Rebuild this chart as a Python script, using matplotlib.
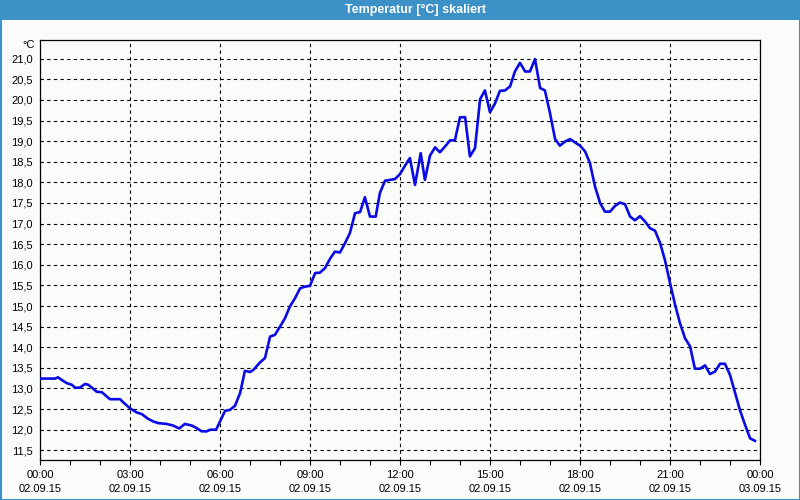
import matplotlib
matplotlib.use("Agg")
import matplotlib.pyplot as plt
from matplotlib.patches import Rectangle
from matplotlib.ticker import MultipleLocator, FixedLocator

# time in hours since 02.09.15 00:00, temperature in °C
hours = [0.0, 0.5, 0.6, 0.72, 0.89, 1.06, 1.17, 1.33, 1.5, 1.61, 1.78, 1.89, 2.06, 2.17,
         2.33, 2.67, 2.78, 3.0, 3.22, 3.39, 3.61, 3.78, 3.94, 4.22, 4.44, 4.64, 4.83,
         5.06, 5.22, 5.39, 5.56, 5.67, 5.87, 6.0, 6.17, 6.33, 6.5, 6.67, 6.83, 7.0, 7.11,
         7.33, 7.5, 7.67, 7.83, 8.0, 8.17, 8.33, 8.5, 8.67, 8.83, 9.0, 9.17, 9.33, 9.5,
         9.67, 9.83, 10.0, 10.17, 10.33, 10.5, 10.67, 10.83, 11.0, 11.19, 11.33, 11.5,
         11.67, 11.83, 12.0, 12.17, 12.33, 12.5, 12.69, 12.83, 13.0, 13.17, 13.33, 13.5,
         13.67, 13.83, 14.0, 14.17, 14.33, 14.5, 14.67, 14.83, 15.0, 15.17, 15.33, 15.5,
         15.67, 15.83, 16.0, 16.17, 16.33, 16.5, 16.61, 16.67, 16.83, 17.0, 17.17, 17.33,
         17.5, 17.67, 17.83, 18.0, 18.17, 18.33, 18.5, 18.67, 18.83, 19.0, 19.17, 19.33,
         19.5, 19.67, 19.83, 20.0, 20.17, 20.33, 20.5, 20.67, 20.83, 21.0, 21.17, 21.33,
         21.5, 21.67, 21.83, 22.0, 22.17, 22.33, 22.5, 22.67, 22.83, 23.0, 23.17, 23.33,
         23.5, 23.67, 23.83]
temps = [13.24, 13.24, 13.27, 13.21, 13.13, 13.09, 13.02, 13.02, 13.11, 13.09, 12.99, 12.92,
         12.91, 12.84, 12.74, 12.74, 12.66, 12.52, 12.42, 12.38, 12.26, 12.20, 12.16, 12.14,
         12.10, 12.03, 12.14, 12.10, 12.04, 11.96, 11.96, 12.00, 12.00, 12.20, 12.46, 12.48,
         12.58, 12.89, 13.43, 13.40, 13.45, 13.63, 13.74, 14.26, 14.30, 14.50, 14.71, 14.99,
         15.19, 15.43, 15.47, 15.49, 15.80, 15.81, 15.92, 16.15, 16.32, 16.30, 16.53, 16.77,
         17.25, 17.28, 17.64, 17.17, 17.17, 17.74, 18.04, 18.06, 18.08, 18.20, 18.41, 18.59,
         17.94, 18.71, 18.06, 18.65, 18.85, 18.73, 18.87, 19.02, 19.02, 19.58, 19.58, 18.63,
         18.83, 20.02, 20.23, 19.70, 19.92, 20.22, 20.23, 20.33, 20.69, 20.90, 20.69, 20.69,
         20.99, 20.53, 20.29, 20.23, 19.68, 19.05, 18.89, 18.99, 19.05, 18.97, 18.89, 18.75,
         18.47, 17.90, 17.50, 17.29, 17.29, 17.43, 17.51, 17.47, 17.17, 17.08, 17.18, 17.05,
         16.89, 16.83, 16.53, 16.12, 15.56, 15.03, 14.59, 14.22, 14.02, 13.48, 13.48, 13.56,
         13.35, 13.41, 13.60, 13.60, 13.33, 12.89, 12.48, 12.12, 11.79, 11.73]

x_ticks = [0, 3, 6, 9, 12, 15, 18, 21, 24]
x_labels = ["00:00\n02.09.15", "03:00\n02.09.15", "06:00\n02.09.15", "09:00\n02.09.15",
            "12:00\n02.09.15", "15:00\n02.09.15", "18:00\n02.09.15", "21:00\n02.09.15",
            "00:00\n03.09.15"]
y_ticks = [11.5, 12.0, 12.5, 13.0, 13.5, 14.0, 14.5, 15.0, 15.5, 16.0, 16.5, 17.0, 17.5,
           18.0, 18.5, 19.0, 19.5, 20.0, 20.5, 21.0]
title = "Temperatur [°C] skaliert"
unit = "°C"

FONT = "Liberation Sans"
bg = "#fafcfa"
blue_bar = "#3c91c6"

fig = plt.figure(figsize=(8, 5), dpi=100, facecolor=bg)
W, H = 800, 500

# title bar and border
fig.patches.append(Rectangle((0, 1 - 20 / H), 1, 20 / H, transform=fig.transFigure,
                             facecolor=blue_bar, edgecolor="none", zorder=0))
fig.patches.append(Rectangle((0.5 / W, 0.5 / H), 1 - 1 / W, 1 - 1 / H, transform=fig.transFigure,
                             facecolor="none", edgecolor=blue_bar, linewidth=1.5, zorder=1))
fig.text(415 / W, 1 - 10 / H, title, color="white", fontweight="bold", fontsize=9,
         family=FONT, ha="center", va="center")

ax = fig.add_axes([40 / W, 40 / H, 720 / W, 420 / H])
ax.set_facecolor(bg)
ax.plot(hours, temps, color="#0a0ae6", linewidth=1.9, zorder=3)

ax.set_xlim(0, 24)
ax.set_ylim(11.265, 21.454)

ax.xaxis.set_major_locator(FixedLocator(x_ticks))
ax.set_xticklabels(x_labels, family=FONT, fontsize=8, linespacing=1.55)
ax.xaxis.set_minor_locator(MultipleLocator(1))
ax.yaxis.set_major_locator(FixedLocator(y_ticks))
ax.set_yticklabels([f"{v:.1f}".replace(".", ",") for v in y_ticks], family=FONT, fontsize=8)

ax.tick_params(axis="x", which="both", direction="out", length=3.5, width=0.8,
               colors="black", pad=3.5)
ax.tick_params(axis="y", which="both", length=0, pad=5)

ax.grid(True, which="major", color="black", linestyle=(0, (3, 3)), linewidth=0.8)
for s in ax.spines.values():
    s.set_color("black")
    s.set_linewidth(0.9)

fig.text(35 / W, 1 - 45 / H, unit, family=FONT, fontsize=8, ha="right", va="center")

fig.savefig("out.png", dpi=100, facecolor=bg)
